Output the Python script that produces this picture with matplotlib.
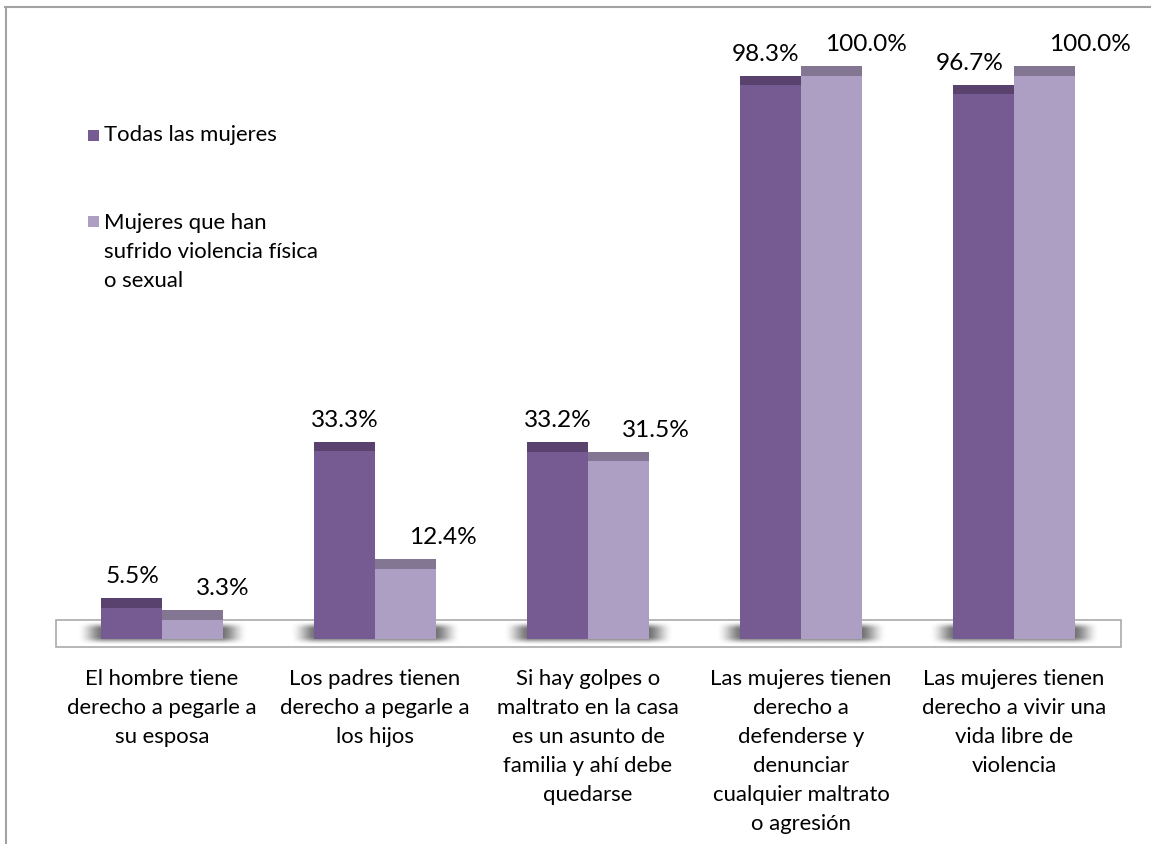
import numpy as np
import matplotlib
matplotlib.use("Agg")
import matplotlib.pyplot as plt
from matplotlib.patches import Rectangle
from matplotlib.lines import Line2D

plt.rcParams["font.family"] = ["Lato", "DejaVu Sans"]

# ---- data -------------------------------------------------------------
categories = [
    "El hombre tiene\nderecho a pegarle a\nsu esposa",
    "Los padres tienen\nderecho a pegarle a\nlos hijos",
    "Si hay golpes o\nmaltrato en la casa\nes un asunto de\nfamilia y ahí debe\nquedarse",
    "Las mujeres tienen\nderecho a\ndefenderse y\ndenunciar\ncualquier maltrato\no agresión",
    "Las mujeres tienen\nderecho a vivir una\nvida libre de\nviolencia",
]
series_names = ["Todas las mujeres",
                "Mujeres que han\nsufrido violencia física\no sexual"]
todas = [5.5, 33.3, 33.2, 98.3, 96.7]
violencia = [3.3, 12.4, 31.5, 100.0, 100.0]

# ---- style ------------------------------------------------------------
W, H, DPI = 1159, 844, 100
PT = 72.0 / DPI                      # points per pixel
front_colors = ["#765b92", "#ad9ec4"]
cap_colors = ["#5a426f", "#827693"]
label_dx = [[1, 0, 0, -5, -14], [30, 37, 37, 34, 45]]   # label shift, px

px_per_cat, x0_px = 213.0, 162.0
px_per_pct, y0_px = 5.63, 629.0
bar_w = 61.0 / px_per_cat
depth = 1.7                          # apparent depth of the 3-D bars (%)

fig = plt.figure(figsize=(W / DPI, H / DPI), dpi=DPI)
ax = fig.add_axes([0, 0, 1, 1])
ax.axis("off")

x = np.arange(len(categories))

# floor of the 3-D plot
ax.add_patch(Rectangle((-0.5, -3.2), len(categories), 4.8, facecolor="white",
                       edgecolor="#a3a3a3", lw=1.1, zorder=1))

# soft shadows under each pair of bars
nx, ny = 240, 60
gx = np.linspace(-1, 1, nx)
gy = np.linspace(-1, 1, ny)
fx = np.clip((1 - np.abs(gx)) / 0.32, 0, 1)
fy = np.clip((1 - np.abs(gy)) / 0.7, 0, 1)
fx = fx * fx * (3 - 2 * fx)
fy = fy * fy * (3 - 2 * fy)
shadow = np.zeros((ny, nx, 4))
shadow[..., :3] = 0.40
shadow[..., 3] = 0.95 * np.outer(fy, fx)
for xi in x:
    ax.imshow(shadow, extent=(xi - 0.40, xi + 0.40, -2.9, 1.2),
              aspect="auto", interpolation="bilinear", zorder=2)

# bars: front face plus darker top face
for s, (vals, off) in enumerate([(todas, -bar_w / 2), (violencia, bar_w / 2)]):
    vals = np.asarray(vals)
    ax.bar(x + off, vals, bar_w, bottom=-depth, color=front_colors[s],
           edgecolor="none", zorder=3)
    ax.bar(x + off, depth, bar_w, bottom=vals - depth, color=cap_colors[s],
           edgecolor="none", zorder=4)
    for i, v in enumerate(vals):
        ax.annotate(f"{v:.1f}%", xy=(x[i] + off, v),
                    xytext=(label_dx[s][i] * PT, 15 * PT),
                    textcoords="offset points", ha="center", va="baseline",
                    fontsize=17.6, color="black", zorder=5)

# category labels under the floor
for i, cat in enumerate(categories):
    for j, line in enumerate(cat.split("\n")):
        ax.annotate(line, xy=(x[i], -depth),
                    xytext=(0, -(46 + 29 * j) * PT),
                    textcoords="offset points", ha="center", va="baseline",
                    fontsize=15.9, color="black")

ax.set_xlim(-x0_px / px_per_cat, (W - x0_px) / px_per_cat)
ax.set_ylim((y0_px - H) / px_per_pct, y0_px / px_per_pct)

# legend
def fx_(px):
    return px / W

def fy_(px):
    return 1 - px / H

legend_rows = [(130, 141), (216, 229)]
for s, (sq_top, base) in enumerate(legend_rows):
    fig.add_artist(Rectangle((fx_(88), fy_(sq_top + 11)), 11 / W, 11 / H,
                             transform=fig.transFigure,
                             facecolor=front_colors[s], edgecolor="none"))
    for j, line in enumerate(series_names[s].split("\n")):
        fig.text(fx_(104), fy_(base + 29 * j), line, ha="left",
                 va="baseline", fontsize=15.9, color="black")

# chart-area border (top and left)
fig.add_artist(Line2D([fx_(5), fx_(1150)], [fy_(7), fy_(7)],
                      transform=fig.transFigure, color="#a3a3a3", lw=1.5))
fig.add_artist(Line2D([fx_(6), fx_(6)], [fy_(7), 0],
                      transform=fig.transFigure, color="#a3a3a3", lw=1.5))

fig.savefig("out.png", dpi=DPI)
